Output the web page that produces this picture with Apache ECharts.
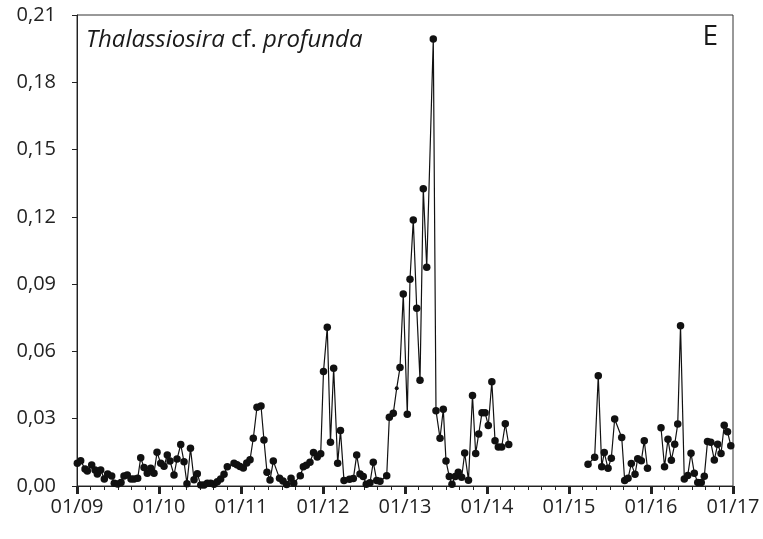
<!DOCTYPE html>
<html>
<head>
<meta charset="utf-8">
<script src="https://cdn.jsdelivr.net/npm/echarts@6/dist/echarts.min.js"></script>
<style>
html,body{margin:0;padding:0;background:#fff;}
#chart{width:763px;height:539px;}
</style>
</head>
<body>
<div id="chart"></div>
<script>
// Decimal-year sampling dates (null value = gap in record)
const dates = [
  2009.004,2009.045,2009.098,2009.126,2009.179,2009.220,2009.248,2009.289,2009.333,2009.374,
  2009.423,2009.455,2009.496,2009.537,2009.573,2009.613,2009.659,2009.695,2009.740,2009.777,
  2009.817,2009.857,2009.899,2009.939,2009.976,2010.021,2010.061,2010.101,2010.134,2010.183,
  2010.220,2010.265,2010.305,2010.341,2010.384,2010.427,2010.467,2010.509,2010.549,2010.589,
  2010.630,2010.671,2010.711,2010.752,2010.793,2010.833,2010.915,2010.951,2010.988,2011.028,
  2011.070,2011.110,2011.150,2011.195,2011.244,2011.280,2011.317,2011.354,2011.394,2011.470,
  2011.512,2011.557,2011.610,2011.643,2011.723,2011.760,2011.796,2011.841,2011.884,2011.930,
  2011.972,2012.006,2012.052,2012.091,2012.130,2012.179,2012.213,2012.256,2012.323,2012.370,
  2012.411,2012.451,2012.491,2012.528,2012.573,2012.613,2012.655,2012.695,2012.777,2012.809,
  2012.857,2012.899,2012.939,2012.979,2013.028,2013.061,2013.101,2013.143,2013.183,2013.223,
  2013.265,2013.345,2013.378,2013.427,2013.467,2013.500,2013.540,2013.573,2013.613,2013.650,
  2013.691,2013.728,2013.774,2013.823,2013.862,2013.899,2013.939,2013.976,2014.016,2014.059,
  2014.098,2014.138,2014.179,2014.223,2014.265,
  2014.750,
  2015.232,2015.313,2015.357,2015.399,2015.430,2015.476,2015.516,2015.557,2015.643,2015.679,
  2015.720,2015.760,2015.805,2015.838,2015.882,2015.918,2015.957,
  2016.040,
  2016.122,2016.165,2016.207,2016.248,2016.289,2016.326,2016.360,2016.406,2016.448,2016.488,
  2016.528,2016.570,2016.613,2016.650,2016.689,2016.729,2016.772,2016.813,2016.854,2016.893,
  2016.933,2016.973
];
const values = [
  0.0101,0.0113,0.0076,0.0067,0.0094,0.0071,0.0053,0.0071,0.0031,0.0053,
  0.0045,0.0012,0.0009,0.0016,0.0045,0.0049,0.0031,0.0031,0.0034,0.0126,
  0.0082,0.0057,0.0079,0.0057,0.0150,0.0101,0.0088,0.0138,0.0111,0.0049,
  0.0120,0.0185,0.0108,0.0010,0.0168,0.0028,0.0055,0.0004,0.0004,0.0012,
  0.0012,0.0008,0.0019,0.0031,0.0052,0.0086,0.0101,0.0095,0.0087,0.0080,
  0.0102,0.0117,0.0213,0.0351,0.0357,0.0205,0.0061,0.0027,0.0111,0.0034,
  0.0022,0.0007,0.0034,0.0012,0.0046,0.0086,0.0092,0.0106,0.0149,0.0129,
  0.0144,0.0510,0.0708,0.0195,0.0525,0.0101,0.0247,0.0024,0.0030,0.0033,
  0.0138,0.0053,0.0042,0.0008,0.0015,0.0106,0.0024,0.0021,0.0046,0.0307,
  0.0324,0.0436,0.0528,0.0856,0.0320,0.0922,0.1186,0.0792,0.0472,0.1325,
  0.0975,0.1993,0.0336,0.0213,0.0342,0.0112,0.0042,0.0008,0.0042,0.0061,
  0.0039,0.0147,0.0026,0.0403,0.0145,0.0232,0.0327,0.0327,0.0270,0.0465,
  0.0202,0.0174,0.0174,0.0277,0.0185,
  null,
  0.0097,0.0128,0.0492,0.0086,0.0149,0.0079,0.0124,0.0299,0.0216,0.0025,
  0.0034,0.0100,0.0052,0.0122,0.0113,0.0202,0.0079,
  null,
  0.0260,0.0086,0.0208,0.0115,0.0186,0.0276,0.0714,0.0031,0.0047,0.0146,
  0.0057,0.0016,0.0016,0.0043,0.0198,0.0195,0.0116,0.0186,0.0145,0.0271,
  0.0242,0.0180
];
const smallMarkerDates = [2012.899];
const yearTicks = ['01/09','01/10','01/11','01/12','01/13','01/14','01/15','01/16','01/17'];
const yMin = 0, yMax = 0.21, yStep = 0.03;
const xMin = 2009, xMax = 2017;

const seriesData = dates.map((d, i) => [d, values[i] === null ? '-' : values[i]]);

const chart = echarts.init(document.getElementById('chart'), null, {renderer: 'canvas'});
const FONT = '"Open Sans", sans-serif';
chart.setOption({
  animation: false,
  backgroundColor: '#fff',
  grid: {left: 77, right: 30, top: 15, bottom: 53, show: true, borderColor: '#333', borderWidth: 1, backgroundColor: 'transparent'},
  title: {
    text: '{i|Thalassiosira} cf. {i|profunda}',
    left: 81, top: 23,
    textStyle: {
      fontFamily: FONT, fontSize: 24, fontWeight: 'normal', color: '#1a1a1a',
      rich: {i: {fontFamily: FONT, fontSize: 24, fontStyle: 'italic', color: '#1a1a1a'}}
    }
  },
  graphic: [{
    type: 'text', right: 45, top: 23,
    style: {text: 'E', font: 'normal 28px "Open Sans", sans-serif', fill: '#1a1a1a'}
  }],
  xAxis: {
    type: 'value', min: xMin, max: xMax, interval: 1,
    axisLine: {show: true, lineStyle: {color: '#222', width: 1}},
    axisTick: {show: true, inside: false, length: 8, lineStyle: {color: '#222', width: 3}},
    minorTick: {show: true, splitNumber: 6, length: 4, lineStyle: {color: '#222', width: 1}},
    splitLine: {show: false},
    axisLabel: {
      margin: 11, fontFamily: FONT, fontSize: 20, color: '#222',
      formatter: v => yearTicks[Math.round(v - xMin)]
    }
  },
  yAxis: {
    type: 'value', min: yMin, max: yMax, interval: yStep,
    axisLine: {show: true, lineStyle: {color: '#222', width: 1}},
    axisTick: {show: true, inside: false, length: 5, lineStyle: {color: '#222', width: 1}},
    splitLine: {show: false},
    axisLabel: {
      margin: 21, fontFamily: FONT, fontSize: 20, color: '#222',
      formatter: v => v.toFixed(2).replace('.', ',')
    }
  },
  series: [{
    type: 'line',
    data: seriesData,
    connectNulls: false,
    symbol: 'circle',
    symbolSize: (v) => smallMarkerDates.indexOf(v[0]) >= 0 ? 4 : 7.5,
    itemStyle: {color: '#111'},
    lineStyle: {color: '#111', width: 1.2},
    z: 3
  }]
});
</script>
</body>
</html>
